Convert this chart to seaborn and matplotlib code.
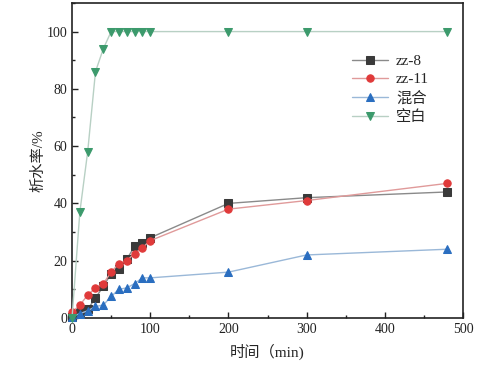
import matplotlib
matplotlib.use("Agg")
import matplotlib.pyplot as plt
import seaborn as sns
import pandas as pd
from matplotlib.ticker import MultipleLocator

sns.set_theme(style="ticks")
plt.rcParams['font.family'] = ['Liberation Serif', 'Noto Sans CJK SC', 'DejaVu Sans']
plt.rcParams['axes.unicode_minus'] = False

time_min = [0, 10, 20, 30, 40, 50, 60, 70, 80, 90, 100, 200, 300, 480]
zz8 = [0.5, 2, 3, 7, 11, 15.5, 17, 20.5, 25, 26, 28, 40, 42, 44]
zz11 = [2, 4.5, 8, 10.5, 12, 16, 19, 20, 22.5, 24.5, 27, 38, 41, 47]
mixed = [0.5, 1.5, 2.5, 4, 4.5, 7.5, 10, 10.5, 12, 14, 14, 16, 22, 24]
blank = [0, 37, 58, 86, 94, 100, 100, 100, 100, 100, 100, 100, 100, 100]

labels = ["zz-8", "zz-11", "混合", "空白"]
series = [zz8, zz11, mixed, blank]
markers = ["s", "o", "^", "v"]
marker_colors = ["#3a3a3a", "#e03a3a", "#2a6ec0", "#3c9a6c"]
line_colors = ["#8a8a8a", "#e09a9a", "#9ab8d8", "#b8d0c4"]

fig = plt.figure(figsize=(4.9, 3.68), dpi=100)
ax = fig.add_axes([0.147, 0.136, 0.798, 0.856])

for lab, vals, mk, mc, lc in zip(labels, series, markers, marker_colors, line_colors):
    df = pd.DataFrame({"t": time_min, "v": vals})
    sns.lineplot(data=df, x="t", y="v", ax=ax, color=lc, linewidth=1.0,
                 marker=mk, markersize=5.3, markerfacecolor=mc, markeredgecolor=mc,
                 label=lab, clip_on=False, zorder=3)

ax.set_xlim(0, 500)
ax.set_ylim(0, 110)
ax.xaxis.set_major_locator(MultipleLocator(100))
ax.xaxis.set_minor_locator(MultipleLocator(50))
ax.yaxis.set_major_locator(MultipleLocator(20))
ax.yaxis.set_minor_locator(MultipleLocator(10))
ax.tick_params(which="both", direction="in", top=False, right=False, labelsize=10, colors="#222222")
ax.tick_params(which="major", length=4, width=1)
ax.tick_params(which="minor", length=2.5, width=1)
for s in ax.spines.values():
    s.set_linewidth(1.2)
    s.set_color("#222222")

ax.set_xlabel("时间（min)", fontsize=11, labelpad=6)
ax.set_ylabel("析水率/%", fontsize=11, labelpad=1)

leg = ax.legend(loc="upper left", bbox_to_anchor=(0.68, 0.88), frameon=False,
                fontsize=11, handlelength=2.4, labelspacing=0.3, handletextpad=0.5)

fig.savefig("out.png", dpi=100)
